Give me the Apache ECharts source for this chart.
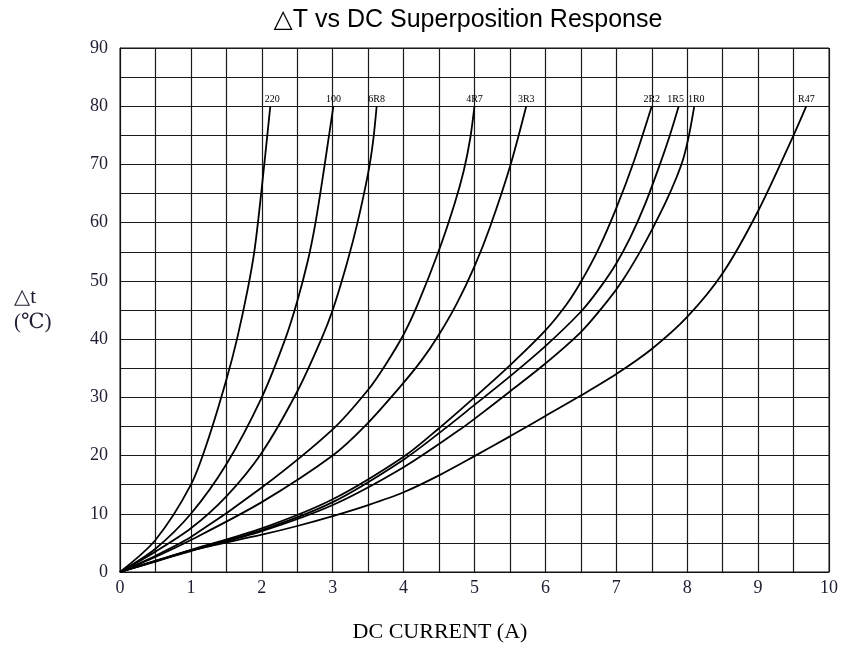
<!DOCTYPE html>
<html><head><meta charset="utf-8">
<script src="https://cdn.jsdelivr.net/npm/echarts@6/dist/echarts.min.js"></script>
<style>html,body{margin:0;padding:0;background:#fff}#c{width:849px;height:648px}</style>
</head><body><div id="c"></div>
<script>
// Curve names (part codes)
const curveNames = ['220','100','6R8','4R7','3R3','2R2','1R5','1R0','R47'];
// [current (A), delta T (°C)]
const c220 = [[0,0],[0.5,5.5],[1.0,15],[1.25,23],[1.5,33],[1.65,40],[1.8,48.5],[1.9,55.5],[2.0,66],[2.12,80]];
const c100 = [[0,0],[0.5,4],[1.0,10],[1.5,18.5],[2.0,30],[2.33,40],[2.5,46.5],[2.65,53.5],[2.75,59.5],[2.85,67],[2.93,73.5],[3.01,80]];
const c6R8 = [[0,0],[0.5,3.5],[1.0,7.5],[1.5,13],[2.0,20.5],[2.5,31],[2.84,40],[3.0,45],[3.2,53],[3.35,60],[3.5,68.5],[3.57,74],[3.62,80]];
const c4R7 = [[0,0],[0.5,2.8],[1.0,6],[2.0,14.5],[3.0,24.5],[3.5,31.3],[3.75,35.7],[4.0,40.8],[4.2,46],[4.5,55.3],[4.72,63.3],[4.85,69],[4.94,74.5],[5.0,80]];
const c3R3 = [[0,0],[0.5,2.6],[1.0,5.5],[2.0,12],[3.0,20],[3.45,25],[3.95,31.8],[4.25,36.3],[4.5,40.8],[4.75,46.1],[5.0,52.5],[5.22,59.3],[5.5,69.6],[5.73,80]];
const c2R2 = [[0,0],[0.5,1.9],[1.0,3.8],[2.0,7.5],[3.0,12.5],[4.0,19.8],[4.5,24.7],[5.0,30],[5.5,35.5],[6.0,41.5],[6.3,46],[6.5,49.8],[6.75,55.5],[7.0,62.5],[7.25,70.6],[7.5,80]];
const c1R5 = [[0,0],[0.5,1.85],[1.0,3.7],[2.0,7.2],[3.0,12],[4.0,19.3],[4.6,24.8],[5.0,28.7],[5.5,33.6],[6.0,38.8],[6.5,44.7],[6.75,48.5],[7.0,53],[7.2,57.5],[7.4,63],[7.6,69.5],[7.75,74.8],[7.88,80]];
const c1R0 = [[0,0],[0.5,1.8],[1.0,3.6],[2.0,7],[3.0,11.5],[4.0,18],[4.8,24.5],[5.0,26.3],[5.5,31],[6.0,35.8],[6.5,41.2],[6.86,46.3],[7.1,50.3],[7.33,54.9],[7.52,59.2],[7.7,63.6],[7.85,67.8],[7.95,71.2],[8.03,75.3],[8.1,80]];
const cR47 = [[0,0],[0.5,1.9],[1.0,3.7],[2.0,6.4],[2.5,7.9],[3.0,9.6],[3.5,11.5],[4.0,13.7],[4.5,16.6],[5.0,19.9],[5.5,23.3],[6.0,26.8],[6.5,30.3],[7.0,34],[7.5,38.3],[8.0,43.8],[8.5,51.3],[9.0,62],[9.5,75],[9.68,80]];
const curveData = [c220,c100,c6R8,c4R7,c3R3,c2R2,c1R5,c1R0,cR47];
// Tick labels
const xTickLabels = ['0','1','2','3','4','5','6','7','8','9','10'];
const yTickLabels = ['0','10','20','30','40','50','60','70','80','90'];

// Small horizontal nudges of curve-end labels (style only)
const labelNudge = {'220':[2,0],'1R5':[-3,0],'1R0':[2,0]};

const serif = "'Liberation Serif','Times New Roman','DejaVu Serif',serif";
const chart = echarts.init(document.getElementById('c'), null, {renderer:'canvas'});

const series = curveNames.map((name, i) => {
  const pts = curveData[i];
  const data = pts.map((p, j) => {
    if (j === pts.length - 1) {
      return {value: p, label: {show: true, formatter: name, position: 'top', distance: 2,
        offset: labelNudge[name] || [0,0],
        fontFamily: serif, fontSize: 10, color: '#000'}};
    }
    return p;
  });
  return {
    name, type: 'line', data, smooth: 0.3, showSymbol: true, symbol: 'circle', symbolSize: 0,
    lineStyle: {color: '#000', width: 1.8}, itemStyle: {color: '#000'},
    silent: true, animation: false, z: 3
  };
});

chart.setOption({
  animation: false,
  backgroundColor: '#fff',
  title: {
    text: '\u25B3T vs DC Superposition Response',
    left: 463, top: 3, textAlign: 'center',
    textStyle: {fontFamily: "'Liberation Sans',Arial,'DejaVu Sans',sans-serif", fontSize: 25, fontWeight: 'normal', color: '#000'}
  },
  grid: {left: 120, right: 20, top: 48, bottom: 76, show: true, borderColor: '#111', borderWidth: 1},
  xAxis: {
    type: 'value', min: 0, max: 10, interval: 0.5,
    name: 'DC CURRENT (A)', nameLocation: 'middle', nameGap: 49,
    nameTextStyle: {fontFamily: serif, fontSize: 22, color: '#000', padding: [0, 69, 0, 0]},
    axisLine: {show: true, lineStyle: {color: '#111', width: 1}},
    axisTick: {show: false},
    axisLabel: {
      margin: 7, fontFamily: serif, fontSize: 18, color: '#1e1e33',
      formatter: v => Number.isInteger(v) ? xTickLabels[v] : ''
    },
    splitLine: {show: true, lineStyle: {color: '#1a1a1a', width: 1.2}}
  },
  yAxis: {
    type: 'value', min: 0, max: 90, interval: 5,
    name: '\u25B3t\n(\u2103)', nameLocation: 'middle', nameRotate: 0, nameGap: 106,
    nameTextStyle: {fontFamily: serif, fontSize: 21, lineHeight: 25, color: '#1e1e33', align: 'left', padding: [22, 0, 0, 0]},
    axisLine: {show: true, lineStyle: {color: '#111', width: 1}},
    axisTick: {show: false},
    axisLabel: {
      margin: 12, fontFamily: serif, fontSize: 18, color: '#1e1e33', padding: [7, 0, 0, 0],
      formatter: v => (v % 10 === 0) ? yTickLabels[v / 10] : ''
    },
    splitLine: {show: true, lineStyle: {color: '#1a1a1a', width: 1.2}}
  },
  series
});
</script></body></html>
